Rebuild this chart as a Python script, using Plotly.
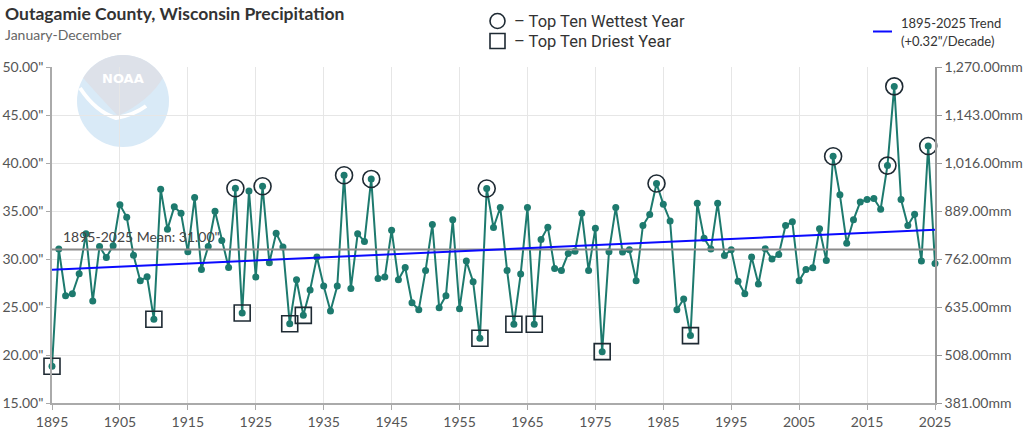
import numpy as np
import plotly.graph_objects as go

# ---------------- data ----------------
years = list(range(1895, 2026))
precip = [
    18.83, 31.03, 26.18, 26.38, 28.46, 32.62, 25.62, 31.31, 30.16, 31.38,
    35.64, 34.36, 30.40, 27.74, 28.15, 23.72, 37.27, 33.11, 35.43, 34.77,
    30.75, 36.40, 28.91, 31.31, 34.98, 31.93, 29.12, 37.37, 24.37, 37.09,
    28.12, 37.58, 29.61, 32.69, 31.24, 23.26, 27.84, 24.13, 26.77, 30.20,
    27.18, 24.58, 27.18, 38.72, 26.94, 32.62, 31.83, 38.34, 27.98, 28.12,
    33.00, 27.84, 29.12, 25.45, 24.72, 28.81, 33.59, 24.93, 26.18, 34.08,
    24.82, 29.78, 27.63, 21.74, 37.34, 33.28, 35.36, 28.81, 23.20, 28.43,
    35.36, 23.20, 32.02, 33.32, 29.02, 28.81, 30.58, 30.82, 34.77, 28.81,
    33.21, 20.35, 30.75, 35.36, 30.72, 30.96, 27.74, 33.49, 34.63, 37.86,
    35.71, 33.97, 24.72, 25.83, 22.02, 35.81, 32.17, 31.03, 35.81, 30.37,
    30.96, 27.67, 26.38, 30.20, 27.39, 31.06, 29.99, 30.47, 33.49, 33.87,
    27.74, 28.91, 29.09, 33.14, 29.85, 40.70, 36.68, 31.65, 34.08, 35.95,
    36.20, 36.30, 35.19, 39.73, 47.98, 36.20, 33.49, 34.67, 29.78, 41.77,
    29.54,
]
wettest_years = [1922, 1926, 1938, 1942, 1959, 1984, 2010, 2018, 2019, 2024]
driest_years = [1895, 1910, 1923, 1930, 1932, 1958, 1963, 1966, 1976, 1989]
mean_value = 31.00
trend_per_decade = 0.32
x_ticks = list(range(1895, 2026, 10))
y_ticks = [15, 20, 25, 30, 35, 40, 45, 50]
mm_ticks = [381, 508, 635, 762, 889, 1016, 1143, 1270]

assert len(years) == len(precip)
val = dict(zip(years, precip))

# trend line through the mean at the mid year with the stated slope
mid_year = (years[0] + years[-1]) / 2
data_mean = float(np.mean(precip))
trend_x = [years[0], years[-1]]
trend_y = [data_mean + trend_per_decade / 10 * (y - mid_year) for y in trend_x]

y_ticktext = ['{:.2f}"'.format(v) for v in y_ticks]
mm_ticktext = ['{:,.2f}mm'.format(v) for v in mm_ticks]

TEAL = "#1d7a6e"
DARK = "#1e2a33"
FONT = "Lato"

# ---------------- pixel helpers (layout) ----------------
W, H = 1024, 432
L, R, T, B = 52, 89, 67, 29
PW, PH = W - L - R, H - T - B


def px(x):
    return (x - L) / PW


def py(y):
    return (H - B - y) / PH


fig = go.Figure()

fig.add_trace(go.Scatter(
    x=years, y=precip, mode="lines+markers",
    line=dict(color=TEAL, width=2),
    marker=dict(color=TEAL, size=7),
    cliponaxis=False, hoverinfo="skip", showlegend=False))

fig.add_trace(go.Scatter(
    x=wettest_years, y=[val[y] for y in wettest_years], mode="markers",
    marker=dict(symbol="circle-open", size=17, color=DARK, line=dict(width=1.6, color=DARK)),
    cliponaxis=False, hoverinfo="skip", showlegend=False))

fig.add_trace(go.Scatter(
    x=driest_years, y=[val[y] for y in driest_years], mode="markers",
    marker=dict(symbol="square-open", size=16, color=DARK, line=dict(width=1.6, color=DARK)),
    cliponaxis=False, hoverinfo="skip", showlegend=False))

fig.add_trace(go.Scatter(
    x=[years[0], years[-1]], y=[mean_value, mean_value], mode="lines",
    line=dict(color="#8a8a8a", width=2), hoverinfo="skip", showlegend=False))

fig.add_trace(go.Scatter(
    x=trend_x, y=trend_y, mode="lines",
    line=dict(color="#0a0aff", width=2), hoverinfo="skip", showlegend=False))

# invisible trace so the mm axis is drawn
fig.add_trace(go.Scatter(
    x=years, y=[p * 25.4 for p in precip], yaxis="y2", mode="lines",
    line=dict(width=0, color="rgba(0,0,0,0)"), hoverinfo="skip", showlegend=False))

# ---------------- NOAA watermark ----------------
cx, cy, r = 123, 101, 46
shapes = []
shapes.append(dict(type="circle", xref="paper", yref="paper", layer="below",
                   x0=px(cx - r), x1=px(cx + r), y0=py(cy + r), y1=py(cy - r),
                   fillcolor="#d9eaf7", line=dict(width=0)))
# upper gray part: circle cap above a swoosh curve
ang = np.linspace(np.deg2rad(150), np.deg2rad(30), 30)
pts = [(cx + r * np.cos(a), cy - r * np.sin(a)) for a in ang]
path = "M {:.4f},{:.4f} ".format(px(pts[0][0]), py(pts[0][1]))
for (x_, y_) in pts[1:]:
    path += "L {:.4f},{:.4f} ".format(px(x_), py(y_))
path += "Q {:.4f},{:.4f} {:.4f},{:.4f} ".format(px(150), py(100), px(118), py(116))
path += "Q {:.4f},{:.4f} {:.4f},{:.4f} Z".format(px(98), py(95), px(pts[0][0]), py(pts[0][1]))
shapes.append(dict(type="path", xref="paper", yref="paper", layer="below", path=path,
                   fillcolor="#dde1e9", line=dict(width=0)))
# white swoosh (bird wings)
sw = "M {:.4f},{:.4f} Q {:.4f},{:.4f} {:.4f},{:.4f} Q {:.4f},{:.4f} {:.4f},{:.4f}".format(
    px(80), py(88), px(96), py(112), px(116), py(118), px(134), py(115), px(146), py(106))
shapes.append(dict(type="path", xref="paper", yref="paper", layer="below", path=sw,
                   line=dict(color="white", width=4)))

# ---------------- legend shapes ----------------
shapes.append(dict(type="circle", xref="paper", yref="paper",
                   x0=px(490), x1=px(505), y0=py(28.5), y1=py(13.5),
                   line=dict(color=DARK, width=1.6)))
shapes.append(dict(type="rect", xref="paper", yref="paper",
                   x0=px(490), x1=px(505), y0=py(48.5), y1=py(33.5),
                   line=dict(color=DARK, width=1.6)))
shapes.append(dict(type="line", xref="paper", yref="paper",
                   x0=px(873), x1=px(892), y0=py(31.5), y1=py(31.5),
                   line=dict(color="#0a0aff", width=2)))

annotations = [
    dict(text="<b>Outagamie County, Wisconsin Precipitation</b>", x=px(3), y=py(14),
         font=dict(family=FONT, size=17.5, color="#333333")),
    dict(text="January-December", x=px(3), y=py(35),
         font=dict(family=FONT, size=14, color="#666666")),
    dict(text="– Top Ten Wettest Year", x=px(512), y=py(21),
         font=dict(family="Roboto", size=16.5, color="#333333")),
    dict(text="– Top Ten Driest Year", x=px(512), y=py(41),
         font=dict(family="Roboto", size=16.5, color="#333333")),
    dict(text="1895-2025 Trend", x=px(899), y=py(23),
         font=dict(family=FONT, size=13, color="#333333")),
    dict(text="(+0.32\"/Decade)", x=px(899), y=py(41),
         font=dict(family=FONT, size=13, color="#333333")),
    dict(text="1895-2025 Mean: 31.00\"", x=px(61), y=py(236),
         font=dict(family=FONT, size=14, color="#444444")),
    dict(text="<b>NOAA</b>", x=px(123), y=py(78), xanchor="center",
         font=dict(family="DejaVu Sans", size=13, color="white")),
]
for a in annotations:
    a.setdefault("xanchor", "left")
    a.update(xref="paper", yref="paper", yanchor="middle", showarrow=False)

fig.update_layout(
    width=W, height=H,
    margin=dict(l=L, r=R, t=T, b=B, autoexpand=False),
    paper_bgcolor="white", plot_bgcolor="white",
    font=dict(family=FONT, size=14, color="#555555"),
    shapes=shapes, annotations=annotations,
    xaxis=dict(range=[years[0], years[-1]], tickvals=x_ticks, ticks="outside", ticklen=5,
               tickcolor="#aaaaaa", showline=True, linecolor="#aaaaaa", linewidth=1.5,
               showgrid=True, gridcolor="#e6e6e6", zeroline=False,
               tickfont=dict(family=FONT, size=14, color="#555555")),
    yaxis=dict(range=[15, 50], tickmode="array", tickvals=y_ticks, ticktext=y_ticktext,
               ticks="outside", ticklen=4, tickcolor="#aaaaaa", showline=True,
               linecolor="#aaaaaa", linewidth=1.5, showgrid=True, gridcolor="#e6e6e6",
               zeroline=False, tickfont=dict(family=FONT, size=14, color="#555555")),
    yaxis2=dict(range=[381, 1270], tickmode="array", tickvals=mm_ticks, ticktext=mm_ticktext,
                overlaying="y", side="right", ticks="outside", ticklen=5, tickcolor="#999999",
                showline=True, linecolor="#999999", linewidth=1.5, showgrid=False,
                zeroline=False, tickfont=dict(family=FONT, size=14, color="#555555")),
    hovermode=False,
)

fig.write_html("out.html", config={"displayModeBar": False},
               post_script="document.body.style.margin='0px';document.body.style.overflow='hidden';")
